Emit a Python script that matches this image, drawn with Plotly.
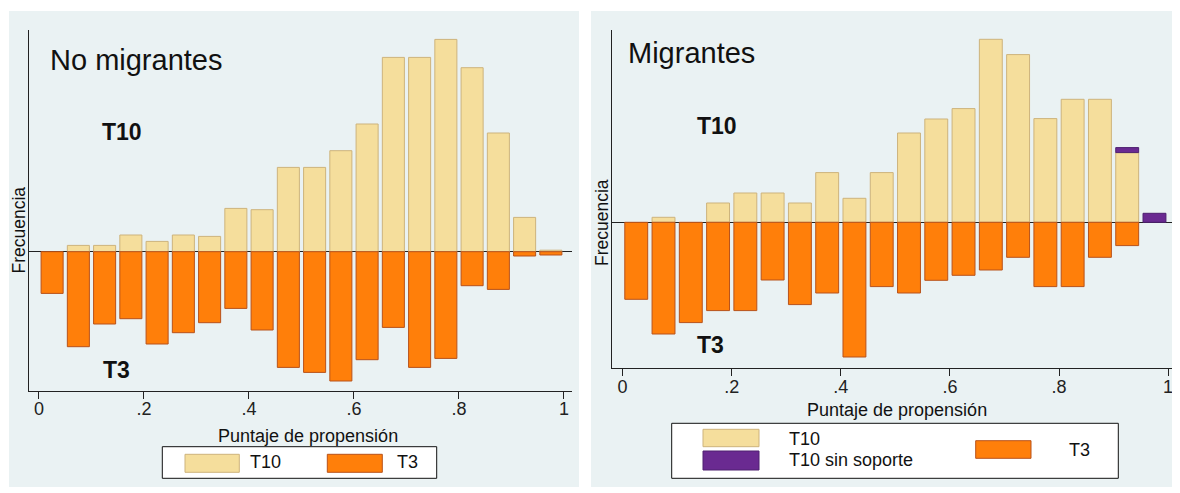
import plotly.graph_objects as go

# ---------------- data ----------------
bin_centers = [0.025, 0.075, 0.125, 0.175, 0.225, 0.275, 0.325, 0.375, 0.425, 0.475,
               0.525, 0.575, 0.625, 0.675, 0.725, 0.775, 0.825, 0.875, 0.925, 0.975]

# No migrantes (relative frequencies, T3 drawn downward)
nomig_t10 = [0, 6.3, 6.3, 16.7, 10.3, 16.7, 15.3, 43.3, 42, 84.3,
             84.3, 101, 127.7, 194.3, 194.3, 212.3, 184, 118.7, 34.3, 1.5]
nomig_t3 = [-41.7, -95, -72.3, -67, -92.3, -81, -71, -56.7, -78.3, -115.7,
            -120.7, -129.3, -108, -75.7, -115.7, -106.7, -34, -37.7, -4.3, -3.3]

# Migrantes
mig_t10 = [0, 5, 0, 19.3, 29.3, 29.3, 19.3, 49.7, 24, 49.7,
           89.3, 103.3, 113.7, 183, 167.7, 103.7, 123, 123, 69.7, 0]
mig_t10_sin = [0, 0, 0, 0, 0, 0, 0, 0, 0, 0,
               0, 0, 0, 0, 0, 0, 0, 0, 5, 9]
mig_t3 = [-77, -111.7, -100.3, -88.3, -88.3, -57.7, -82.3, -70.7, -134.7, -64.3,
          -70.7, -58, -53, -47.7, -35, -64.3, -64.3, -35, -23.3, 0]

tick_vals = [0, 0.2, 0.4, 0.6, 0.8, 1]
tick_text = ["0", ".2", ".4", ".6", ".8", "1"]

panel_titles = ["No migrantes", "Migrantes"]
x_title = "Puntaje de propensión"
y_title = "Frecuencia"

# ---------------- style ----------------
OFF = 8                      # page body margin
W, H = 1180 - OFF, 493 - OFF
FONT = "Liberation Sans, Arial, sans-serif"
BG = "#EAF2F3"
YEL, YEL_L = "#F5DE9C", "#CDB37C"
ORA, ORA_L = "#FF7F0A", "#B8521A"
PUR, PUR_L = "#6A2A91", "#4E2070"
BAR_W = 0.042


def px(x):
    return (x - OFF) / W


def py(y):
    return 1 - (y - OFF) / H


def nz(vals):
    return [v if v != 0 else None for v in vals]


fig = go.Figure()


def bars(y, fill, line, xa, ya, name, base=None):
    fig.add_trace(go.Bar(
        x=bin_centers, y=nz(y), base=base, width=BAR_W, name=name,
        marker=dict(color=fill, line=dict(color=line, width=1)),
        xaxis=xa, yaxis=ya, showlegend=False))


bars(nomig_t10, YEL, YEL_L, "x", "y", "T10")
bars(nomig_t3, ORA, ORA_L, "x", "y", "T3")
bars(mig_t10, YEL, YEL_L, "x2", "y2", "T10")
bars(mig_t10_sin, PUR, PUR_L, "x2", "y2", "T10 sin soporte", base=mig_t10)
bars(mig_t3, ORA, ORA_L, "x2", "y2", "T3")

xaxis_common = dict(
    tickvals=tick_vals, ticktext=tick_text, ticks="outside", ticklen=7,
    tickcolor="#222", tickwidth=1, showline=True, linecolor="#222", linewidth=1.2,
    showgrid=False, zeroline=False,
    tickfont=dict(family=FONT, size=18, color="#222"), ticklabelstandoff=-5,
)
yaxis_common = dict(
    showticklabels=False, ticks="", showline=True, linecolor="#222", linewidth=1.2,
    showgrid=False, zeroline=True, zerolinecolor="#222", zerolinewidth=1,
)

fig.update_layout(
    width=W, height=H, margin=dict(l=0, r=0, t=0, b=0),
    paper_bgcolor="white", plot_bgcolor="white", barmode="overlay",
    xaxis=dict(domain=[px(29), px(571.7)], range=[-0.019, 1.0147], anchor="y", **xaxis_common),
    yaxis=dict(domain=[py(390.7), py(30)], range=[-139, 221.7], anchor="x", **yaxis_common),
    xaxis2=dict(domain=[px(611.7), px(1177)], range=[-0.020, 1.0163], anchor="y2", **xaxis_common),
    yaxis2=dict(domain=[py(368.3), py(30)], range=[-146, 192.3], anchor="x2", **yaxis_common),
)

shapes = [
    dict(type="rect", xref="paper", yref="paper", x0=px(9), x1=px(579), y0=py(487), y1=py(11),
         fillcolor=BG, line=dict(width=0), layer="below"),
    dict(type="rect", xref="paper", yref="paper", x0=px(591), x1=px(1180), y0=py(487), y1=py(11),
         fillcolor=BG, line=dict(width=0), layer="below"),
]


def rect(x0, x1, y0, y1, fill, line, lw=1):
    shapes.append(dict(type="rect", xref="paper", yref="paper", x0=px(x0), x1=px(x1),
                       y0=py(y1), y1=py(y0), fillcolor=fill, line=dict(color=line, width=lw)))


# legend boxes
rect(162.3, 436.7, 446.7, 478.3, "white", "#111", 1)
rect(185, 239.3, 454.3, 472.3, YEL, YEL_L)
rect(327.3, 382.3, 454.3, 472.3, ORA, ORA_L)

rect(671.7, 1118.3, 423.3, 478.3, "white", "#111", 1)
rect(703, 759, 429.3, 446.7, YEL, YEL_L)
rect(703, 759, 451, 470, PUR, PUR_L)
rect(975.7, 1031, 440.7, 458.3, ORA, ORA_L)

annotations = []


def text(s, x, y, size=18, bold=False, xanchor="left", angle=0):
    annotations.append(dict(
        text=f"<b>{s}</b>" if bold else s, x=px(x), y=py(y), xref="paper", yref="paper",
        xanchor=xanchor, yanchor="middle", showarrow=False, textangle=angle,
        font=dict(family=FONT, size=size, color="#111")))


# panel titles
text(panel_titles[0], 48, 60, size=29)
text(panel_titles[1], 626, 53, size=29)
# group labels
text("T10", 100, 132, size=23, bold=True)
text("T3", 101, 370, size=23, bold=True)
text("T10", 695, 126, size=23, bold=True)
text("T3", 695, 345, size=23, bold=True)
# axis titles
text(x_title, 308, 436, xanchor="center")
text(x_title, 897, 410, xanchor="center")
text(y_title, 18.5, 230, size=17.5, xanchor="center", angle=-90)
text(y_title, 602, 223, size=17.5, xanchor="center", angle=-90)
# legend labels
text("T10", 248.3, 462)
text("T3", 395, 462)
text("T10", 786.7, 439)
text("T10 sin soporte", 786.7, 460)
text("T3", 1066.7, 449.5)

fig.update_layout(shapes=shapes, annotations=annotations)
fig.write_html("out.html")
